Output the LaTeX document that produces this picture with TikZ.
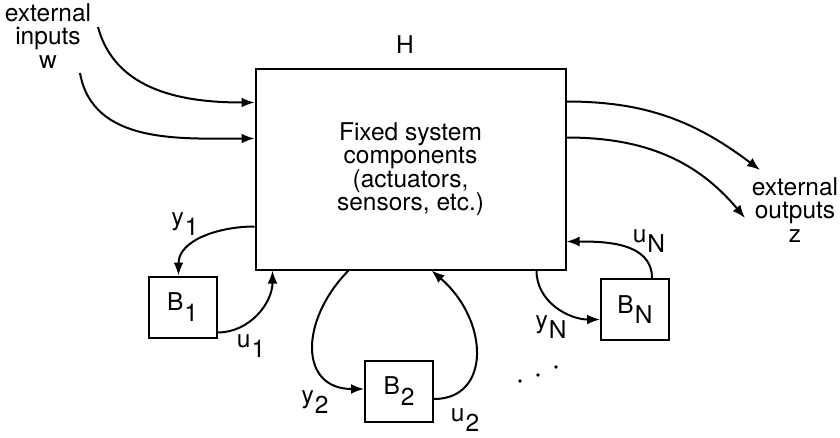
\documentclass[tikz,border=0pt]{standalone}
\usepackage{fontspec}
\setmainfont{TeX Gyre Heros}
\usetikzlibrary{arrows.meta}
\newcommand{\lowidx}[1]{\kern1pt\raisebox{-0.42em}{#1}}

\begin{document}
\begin{tikzpicture}[x=1pt, y=-1pt, line width=2pt, >={Latex[length=13pt,width=10pt]},
  every node/.style={font=\fontsize{24.5}{23.5}\selectfont, align=center},
  blk/.style={draw, minimum width=68pt, minimum height=61pt, inner sep=0pt},
  sig/.style={->}]
  \useasboundingbox (0,0) rectangle (840,437);

  % fixed part H
  \node[draw, minimum width=310pt, minimum height=201pt] (sys) at (410.5,169)
    {Fixed system\\components\\(actuators,\\sensors, etc.)};
  \node (hlbl) at (405,45) {H};

  % uncertain blocks
  \node[blk] (b1) at (182.5,307) {B\lowidx{1}};
  \node[blk] (b2) at (399,391) {B\lowidx{2}};
  \node[blk] (bn) at (635,309.5) {B\lowidx{N}};

  % external inputs w
  \coordinate (w1) at (98,27);
  \coordinate (w2) at (80,73);
  \node (win) at (48,36) {external\\inputs\\w};
  \draw[sig] (w1) to[out=-75,in=180] ([yshift=-35pt]sys.north west);
  \draw[sig] (w2) to[out=-80,in=180] ([yshift=-71pt]sys.north west);

  % external outputs z
  \coordinate (z1) at (760,170);
  \coordinate (z2) at (745,218);
  \node (zout) at (795,210) {external\\outputs\\z};
  \draw[sig] ([yshift=-34pt]sys.north east) to[out=0,in=143] (z1);
  \draw[sig] ([yshift=-70pt]sys.north east) to[out=0,in=130] (z2);

  % loop through B_1
  \draw[sig] ([yshift=-159pt]sys.north west) to[out=180,in=90] ([xshift=-4pt]b1.north);
  \draw[sig] ([yshift=6pt]b1.south east) to[out=0,in=-90] ([xshift=18pt]sys.south west);
  \node (ly1) at (185,224) {y\lowidx{1}};
  \node (lu1) at (251,346) {u\lowidx{1}};

  % loop through B_2
  \draw[sig] ([xshift=94pt]sys.south west) .. controls +(-49,50) and +(-65,0) .. ([yshift=2pt]b2.west);
  \draw[sig] ([yshift=-8pt]b2.east) .. controls +(57,0) and +(58,50) .. ([xshift=177pt]sys.south west);
  \node (ly2) at (315,402) {y\lowidx{2}};
  \node (lu2) at (465,420) {u\lowidx{2}};

  % loop through B_N
  \draw[sig] ([xshift=282pt]sys.south west) to[out=-90,in=180] ([yshift=-10pt]bn.west);
  \draw[sig] ([xshift=17pt]bn.north) to[out=90,in=0] ([yshift=-174pt]sys.north east);
  \node (lyn) at (551,327) {y\lowidx{N}};
  \node (lun) at (649,241) {u\lowidx{N}};

  % more blocks
  \foreach \px/\py in {520/381, 538/375, 556/367}
    \fill (\px,\py) circle (1.8pt);
\end{tikzpicture}
\end{document}
